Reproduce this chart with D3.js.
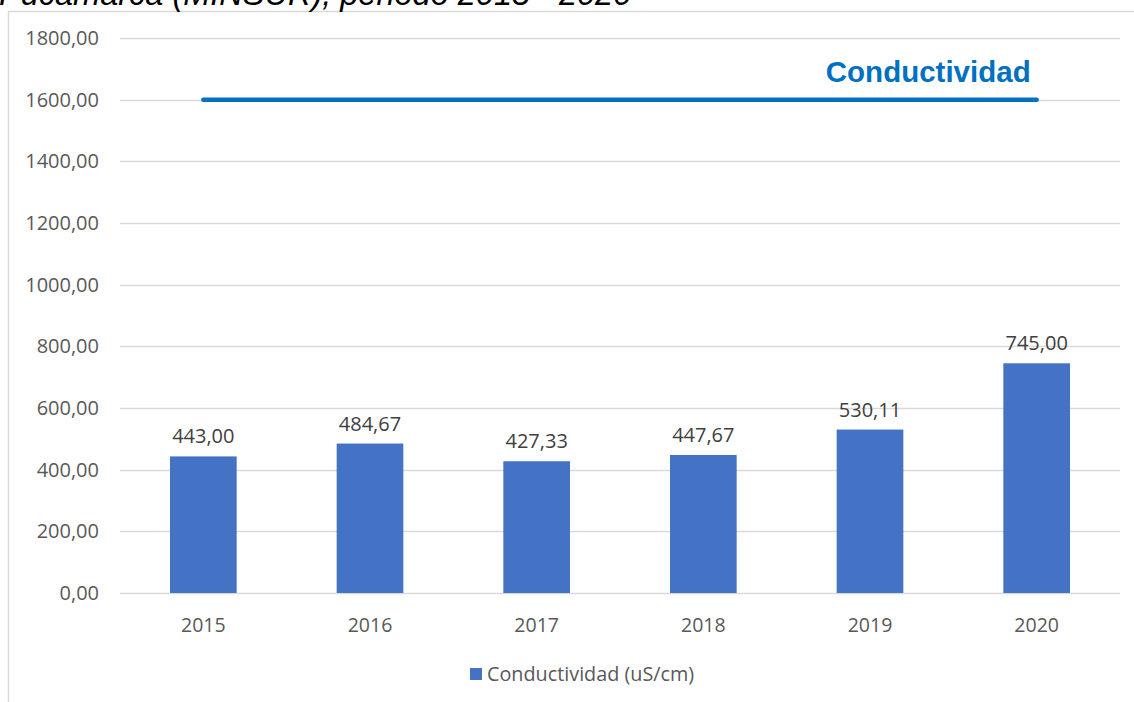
<!DOCTYPE html>
<html><head><meta charset="utf-8">
<script src="https://cdn.jsdelivr.net/npm/d3@7"></script>
<style>body{margin:0;background:#fff}svg{display:block}</style>
</head><body>
<svg id="c" width="1134" height="702"></svg>
<script>
const categories = ["2015","2016","2017","2018","2019","2020"];
const values = [443.00, 484.67, 427.33, 447.67, 530.11, 745.00];
const valueLabels = ["443,00","484,67","427,33","447,67","530,11","745,00"];
const yTicks = [0,200,400,600,800,1000,1200,1400,1600,1800];
const limitValue = 1600;
const limitLabel = "Conductividad";
const seriesName = "Conductividad (uS/cm)";
const titleText = "Pucamarca (MINSUR), periodo 2015 - 2020";

const svg = d3.select("#c");
const fmt = v => v.toFixed(2).replace(".", ",");
const font = "'Open Sans', 'Noto Sans', sans-serif";

// frame
svg.append("path").attr("d","M8.5,702 V11.5 H1134").attr("fill","none").attr("stroke","#d9d9d9").attr("stroke-width",1.5);
// cut-off title
svg.append("text").attr("x",-1).attr("y",5).attr("font-family","Liberation Sans, Arial, sans-serif")
  .attr("font-style","italic").attr("font-size",32.5).attr("fill","#000").text(titleText);

const x = d3.scaleBand().domain(categories).range([120,1120]).paddingInner(0.6).paddingOuter(0.3);
const y = d3.scaleLinear().domain([0,1800]).range([593,38]);

// gridlines
svg.append("g").selectAll("line").data(yTicks).join("line")
  .attr("x1",120).attr("x2",1120).attr("y1",d=>Math.round(y(d))+0.5).attr("y2",d=>Math.round(y(d))+0.5)
  .attr("stroke","#d9d9d9").attr("stroke-width",1.5);

// y axis labels
const ya = svg.append("g").attr("transform","translate(99,0)")
  .call(d3.axisLeft(y).tickValues(yTicks).tickFormat(fmt).tickSize(0).tickPadding(0));
ya.select(".domain").remove();
ya.selectAll("text").attr("font-family",font).attr("font-size",20).attr("fill","#595959");

// x axis labels
const xa = svg.append("g").attr("transform","translate(0,593)")
  .call(d3.axisBottom(x).tickSize(0).tickPadding(25));
xa.select(".domain").remove();
xa.selectAll("text").attr("font-family",font).attr("font-size",19.5).attr("fill","#595959");

// bars
svg.append("g").selectAll("rect").data(values).join("rect")
  .attr("x",(d,i)=>x(categories[i])).attr("width",x.bandwidth())
  .attr("y",d=>y(d)).attr("height",d=>y(0)-y(d)).attr("fill","#4472C4");

// data labels
svg.append("g").selectAll("text").data(values).join("text")
  .attr("x",(d,i)=>x(categories[i])+x.bandwidth()/2).attr("y",d=>y(d)-13)
  .attr("text-anchor","middle").attr("font-family",font).attr("font-size",20).attr("fill","#404040")
  .text((d,i)=>valueLabels[i]);

// limit line
const x0 = x(categories[0])+x.bandwidth()/2, x1 = x(categories[categories.length-1])+x.bandwidth()/2;
svg.append("line").attr("x1",x0).attr("x2",x1).attr("y1",y(limitValue)).attr("y2",y(limitValue))
  .attr("stroke","#0070C0").attr("stroke-width",4.5).attr("stroke-linecap","round");
svg.append("text").attr("x",x1-6).attr("y",y(limitValue)-18).attr("text-anchor","end")
  .attr("font-family","Liberation Sans, Arial, sans-serif").attr("font-weight","bold").attr("font-size",29.5)
  .attr("fill","#0070C0").text(limitLabel);

// legend
svg.append("rect").attr("x",470).attr("y",668).attr("width",12).attr("height",12).attr("fill","#4472C4");
svg.append("text").attr("x",487).attr("y",681).attr("font-family",font).attr("font-size",19.8).attr("fill","#595959").text(seriesName);
</script>
</body></html>
